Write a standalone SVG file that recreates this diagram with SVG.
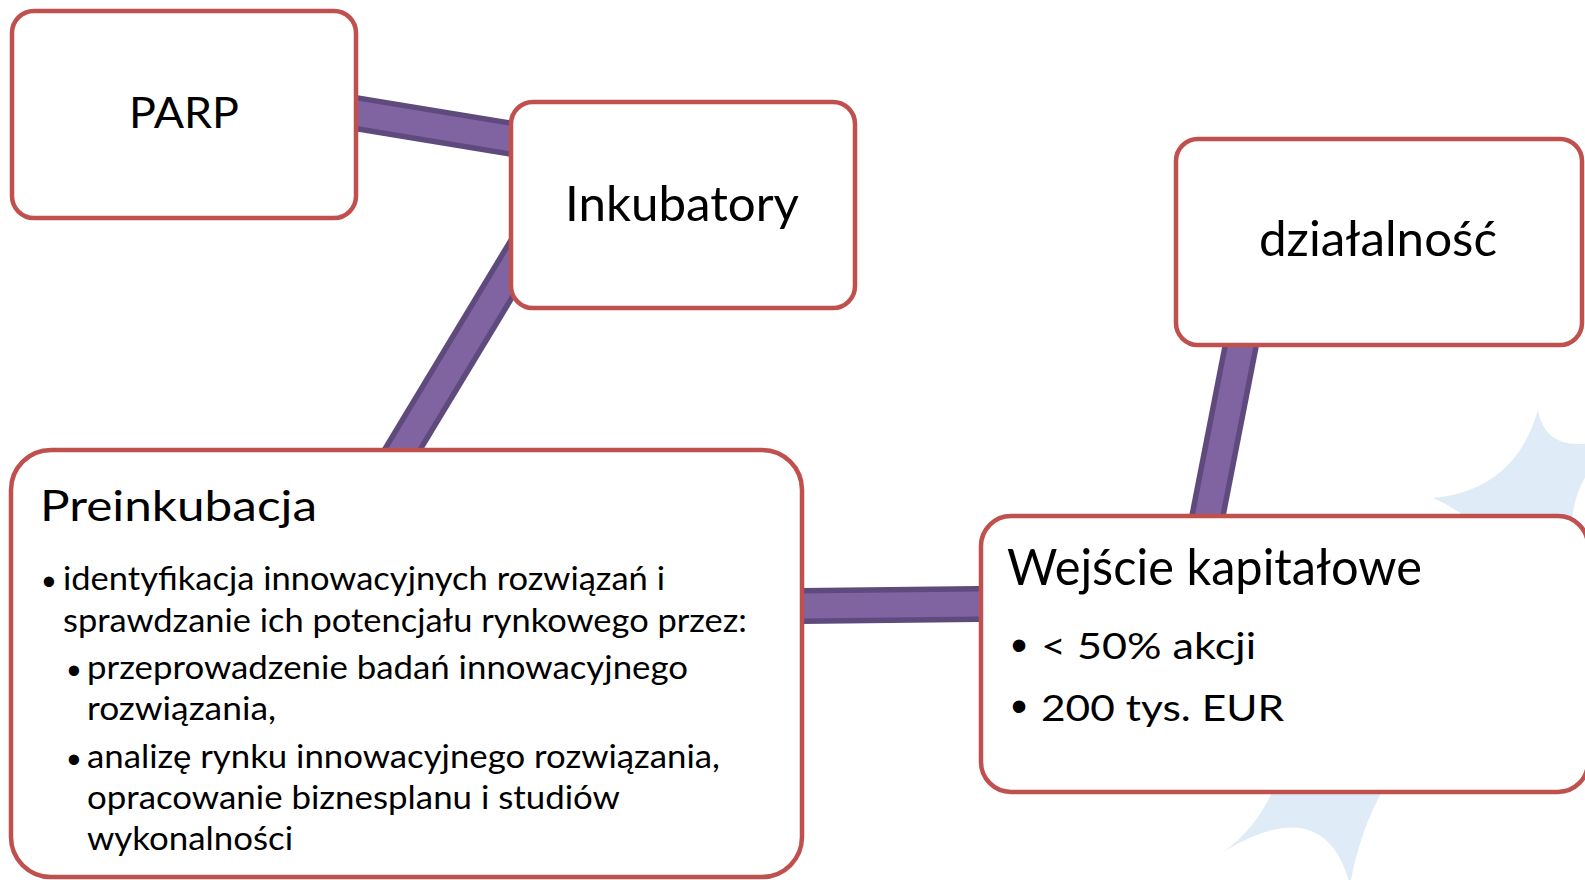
<svg xmlns="http://www.w3.org/2000/svg" width="1585" height="880" viewBox="0 0 1585 880">
<style>
.box{fill:#fff;stroke:#C0504D;stroke-width:4.5}
.co{stroke:#5E4A7D;stroke-width:36;fill:none}
.ci{stroke:#8064A2;stroke-width:25;fill:none}
.star{fill:#DFEBF7}
text{font-family:Lato,"Open Sans",sans-serif;fill:#000}
.bul{font-family:"Liberation Sans",Arial,sans-serif}
</style>
<rect x="0" y="0" width="1585" height="880" fill="#fff"/>
<g id="background">
<path class="star" d="M1433,498 Q1515,490 1538,410 Q1545,450 1590,443 L1590,470 Q1575,490 1572,520 L1470,520 Q1450,505 1433,498 Z"/>
<path class="star" d="M1273,790 Q1255,830 1223,852 Q1325,790 1350,885 Q1360,830 1383,790 Z"/>
</g>
<g id="connectors">
<line class="co" x1="300" y1="103.9" x2="560" y2="146.7"/>
<line class="ci" x1="300" y1="103.9" x2="560" y2="146.7"/>
<line class="co" x1="390" y1="470" x2="541" y2="220"/>
<line class="ci" x1="390" y1="470" x2="541" y2="220"/>
<line class="co" x1="1245.7" y1="320" x2="1201.8" y2="545"/>
<line class="ci" x1="1245.7" y1="320" x2="1201.8" y2="545"/>
<line class="co" x1="780" y1="606.3" x2="1000" y2="603.8"/>
<line class="ci" x1="780" y1="606.3" x2="1000" y2="603.8"/>
</g>
<g id="node-parp">
<rect class="box" x="12" y="11" width="344" height="207" rx="22"/>
<text x="129" y="128" font-size="43" textLength="110" lengthAdjust="spacingAndGlyphs">PARP</text>
</g>
<g id="node-inkubatory">
<rect class="box" x="511" y="102" width="344" height="206" rx="22"/>
<text x="565" y="221" font-size="48" textLength="234" lengthAdjust="spacingAndGlyphs">Inkubatory</text>
</g>
<g id="node-dzialalnosc">
<rect class="box" x="1176" y="139" width="406" height="206" rx="22"/>
<text x="1259" y="256" font-size="48" textLength="238" lengthAdjust="spacingAndGlyphs">działalność</text>
</g>
<g id="node-preinkubacja">
<rect class="box" x="11" y="450" width="791" height="427" rx="40"/>
<text x="40" y="521" font-size="43" textLength="277" lengthAdjust="spacingAndGlyphs">Preinkubacja</text>
<text class="bul" x="49" y="595" font-size="38" text-anchor="middle">•</text>
<text x="63" y="590" font-size="32" textLength="602" lengthAdjust="spacingAndGlyphs">identyfikacja innowacyjnych rozwiązań i</text>
<text x="63" y="632" font-size="32" textLength="684" lengthAdjust="spacingAndGlyphs">sprawdzanie ich potencjału rynkowego przez:</text>
<text class="bul" x="74" y="684" font-size="38" text-anchor="middle">•</text>
<text x="87" y="679" font-size="32" textLength="601" lengthAdjust="spacingAndGlyphs">przeprowadzenie badań innowacyjnego</text>
<text x="87" y="720" font-size="32" textLength="189" lengthAdjust="spacingAndGlyphs">rozwiązania,</text>
<text class="bul" x="74" y="773" font-size="38" text-anchor="middle">•</text>
<text x="87" y="768" font-size="32" textLength="633" lengthAdjust="spacingAndGlyphs">analizę rynku innowacyjnego rozwiązania,</text>
<text x="87" y="809" font-size="32" textLength="533" lengthAdjust="spacingAndGlyphs">opracowanie biznesplanu i studiów</text>
<text x="87" y="850" font-size="32" textLength="206" lengthAdjust="spacingAndGlyphs">wykonalności</text>
</g>
<g id="node-wejscie">
<rect class="box" x="981" y="516" width="607" height="276" rx="30"/>
<text x="1007" y="585" font-size="51" textLength="415" lengthAdjust="spacingAndGlyphs">Wejście kapitałowe</text>
<text class="bul" x="1019" y="661" font-size="46" text-anchor="middle">•</text>
<text x="1041" y="659" font-size="37" textLength="215" lengthAdjust="spacingAndGlyphs">&lt; 50% akcji</text>
<text class="bul" x="1019" y="722" font-size="46" text-anchor="middle">•</text>
<text x="1041" y="721" font-size="37" textLength="243" lengthAdjust="spacingAndGlyphs">200 tys. EUR</text>
</g>
</svg>
